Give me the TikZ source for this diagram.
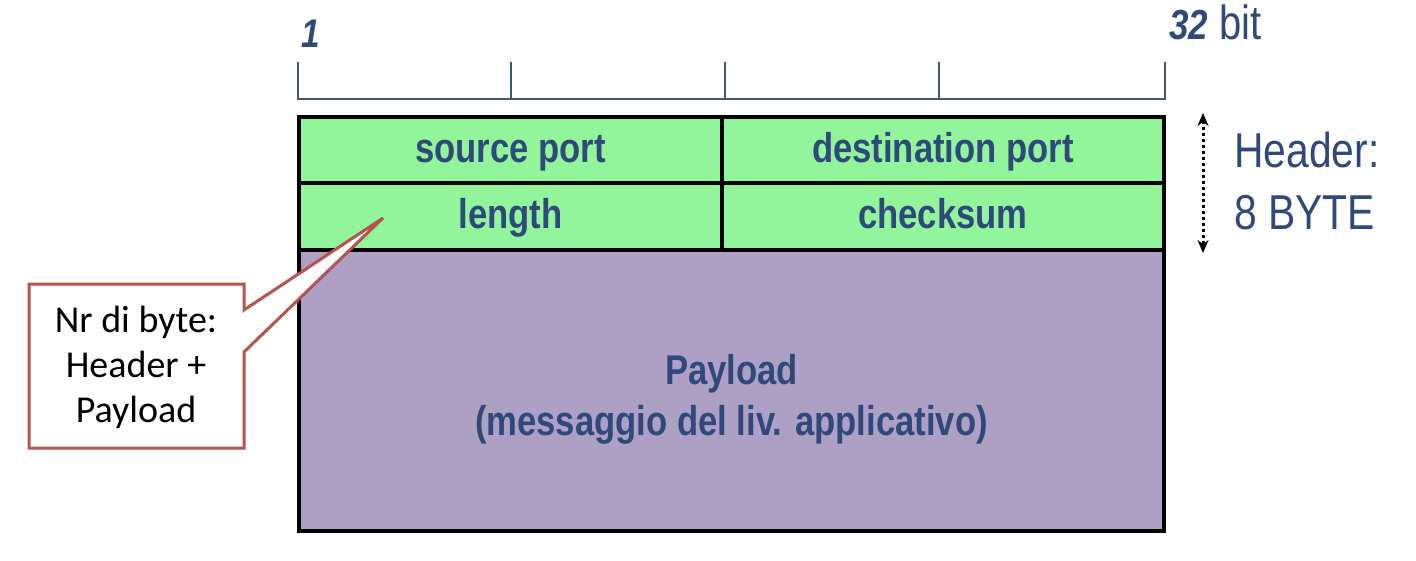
\documentclass[tikz,border=0pt]{standalone}
\usepackage{fontspec}
\setmainfont{Liberation Sans}[FakeStretch=0.833]
\newfontfamily\notefont{Carlito}
\usetikzlibrary{arrows.meta,positioning}
\definecolor{hdrgreen}{HTML}{92F59B}
\definecolor{plpurple}{HTML}{AE9FC4}
\definecolor{txtblue}{HTML}{2F4A7A}
\definecolor{rulergray}{HTML}{46566E}
\definecolor{noteborder}{HTML}{B5544F}
\tikzstyle{field}=[rectangle, draw=black, line width=4pt, fill=hdrgreen, outer sep=0pt,
  text=txtblue, text height=32pt, text depth=8pt, font=\fontsize{41.6}{51}\selectfont\bfseries]
\tikzstyle{payloadbox}=[rectangle, draw=black, line width=4pt, fill=plpurple, outer sep=0pt]
\tikzstyle{arrow}=[{Stealth[length=13pt,width=11pt]}-{Stealth[length=13pt,width=11pt]},
  line width=3pt, dash pattern=on 3pt off 3pt]

\begin{document}
\begin{tikzpicture}[x=1pt,y=-1pt,
  ruler/.style={draw=rulergray,line width=2pt},
  lbl/.style={text=txtblue,inner sep=0pt,font=\fontsize{40}{48}\selectfont},
  note/.style={align=center,inner sep=0pt,font=\notefont\fontsize{38}{45}\selectfont}]
\useasboundingbox (0,0) rectangle (1416,560);
% bit ruler
\draw[ruler] (298,62) -- (298,99) -- (1165,99) -- (1165,62);
\foreach \tx in {511,725,939} \draw[ruler] (\tx,62) -- (\tx,99);
\node[lbl,anchor=west] (one) at (301,34) {\bfseries\itshape 1};
\node[lbl,anchor=west,font=\fontsize{48}{56}\selectfont] (nbit) at (1169,22)
  {{\fontsize{42}{50}\selectfont\bfseries\itshape 32} bit};
% header + payload
\node[field,minimum width=423pt,minimum height=66pt] (src) at (510.5,150) {source port};
\node[field,minimum width=442pt,minimum height=66pt,right=0pt of src] (dst) {destination port};
\node[field,minimum width=423pt,minimum height=67pt,below=0pt of src] (len) {length};
\node[field,minimum width=442pt,minimum height=67pt,right=0pt of len] (chk) {checksum};
\node[payloadbox,anchor=north west,minimum width=865pt,minimum height=281pt] (pay) at (len.south west) {};
\node[lbl,align=center,font=\fontsize{41.6}{51}\selectfont\bfseries] (paytxt) at ([yshift=-9pt]pay.center)
  {Payload\\(messaggio del liv. applicativo)};
% header size
\coordinate (htop) at (1203,113);
\coordinate (hbot) at (1203,253);
\draw[arrow] (htop) -- (hbot);
\node[lbl,anchor=west,align=left,font=\fontsize{49}{62}\selectfont] (hdr) at (1234,181) {Header:\\8 BYTE};
% callout
\coordinate (tip) at (383,218);
\draw[draw=noteborder,line width=3pt,fill=white,line join=miter]
  (29,284) -- (244,284) -- (244,310) -- (tip) -- (244,352) -- (244,448) -- (29,448) -- cycle;
\node[note] (nr) at (136,367) {Nr di byte:\\Header +\\Payload};
\end{tikzpicture}
\end{document}
